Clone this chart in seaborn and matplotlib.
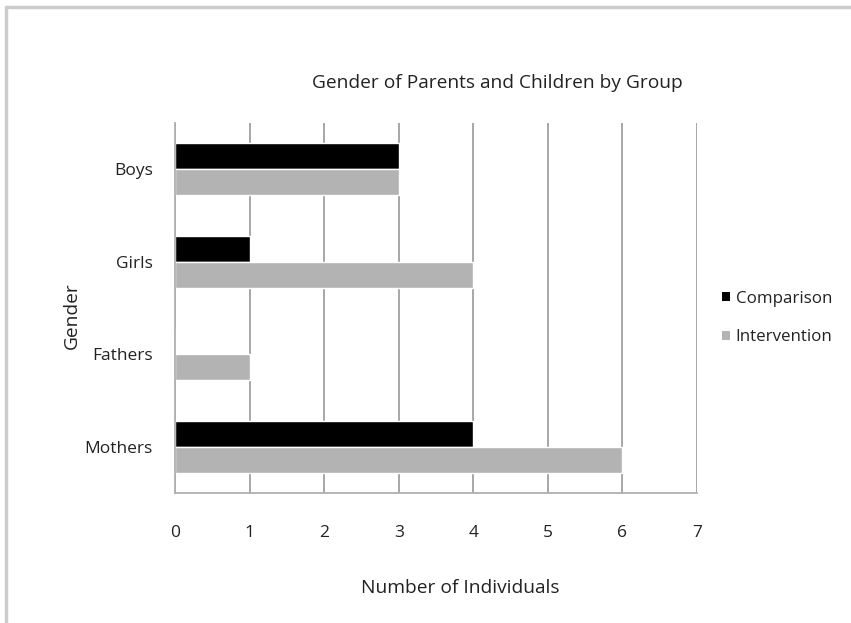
import matplotlib
matplotlib.use("Agg")
import matplotlib.pyplot as plt
from matplotlib.lines import Line2D
from matplotlib.patches import Patch
import seaborn as sns
import pandas as pd

categories = ["Boys", "Girls", "Fathers", "Mothers"]
comparison = [3, 1, 0, 4]
intervention = [3, 4, 1, 6]
groups = ["Comparison", "Intervention"]
x_ticks = [0, 1, 2, 3, 4, 5, 6, 7]

df = pd.DataFrame({
    "Gender": categories * 2,
    "Count": comparison + intervention,
    "Group": [groups[0]] * len(categories) + [groups[1]] * len(categories),
})

sns.set_theme(style="white")
plt.rcParams["font.family"] = ["Open Sans", "DejaVu Sans"]

fig = plt.figure(figsize=(8.51, 6.23), dpi=100)
ax = fig.add_axes([175 / 851, 1 - 493 / 623, (697 - 175) / 851, (493 - 123) / 623])

palette = {"Comparison": "#000000", "Intervention": "#b3b3b3"}
sns.barplot(data=df, y="Gender", x="Count", hue="Group", order=categories,
            hue_order=groups, palette=palette, orient="h", width=0.56,
            saturation=1, ax=ax, legend=False)

ax.set_xlim(0, 7)
ax.set_ylim(3.5, -0.5)
ax.set_xticks(x_ticks)
ax.set_xticklabels([str(t) for t in x_ticks])
ax.xaxis.grid(True, color="#a0a0a0", linewidth=1.3)
ax.set_axisbelow(True)
ax.tick_params(axis="x", length=0, pad=23, labelsize=12.5, colors="#222222")
ax.tick_params(axis="y", which="major", length=0, pad=16, labelsize=12.5, colors="#222222")
ax.set_yticks([-0.5, 0.5, 1.5, 2.5, 3.5], minor=True)
ax.tick_params(axis="y", which="minor", length=4, direction="in", color="#a0a0a0", width=1)
ax.set_xlabel("")
ax.set_ylabel("")
for s in ["top", "right"]:
    ax.spines[s].set_visible(False)
for s in ["left", "bottom"]:
    ax.spines[s].set_color("#b0b0b0")
    ax.spines[s].set_linewidth(1.3)

fig.text(497 / 851, 1 - 83 / 623, "Gender of Parents and Children by Group",
         ha="center", va="center", fontsize=13.8, color="#222222")
fig.text(460 / 851, 1 - 588 / 623, "Number of Individuals",
         ha="center", va="center", fontsize=13.8, color="#222222")
fig.text(72 / 851, 1 - 316 / 623, "Gender", rotation=90,
         ha="center", va="center", fontsize=13.8, color="#222222")

handles = [Patch(facecolor=palette[g], edgecolor="none") for g in groups]
fig.legend(handles, groups, loc="center left",
           bbox_to_anchor=(707 / 851, 1 - 318 / 623), frameon=False,
           handlelength=0.45, handleheight=0.45, handletextpad=0.35,
           labelspacing=1.35, fontsize=12.2, labelcolor="#222222")

fig.add_artist(Line2D([6 / 851, 6 / 851], [0, 1 - 7 / 623], color="#cccccc", linewidth=2.5))
fig.add_artist(Line2D([6 / 851, 1], [1 - 7 / 623, 1 - 7 / 623], color="#cccccc", linewidth=2.5))

fig.savefig("out.png", dpi=100)
